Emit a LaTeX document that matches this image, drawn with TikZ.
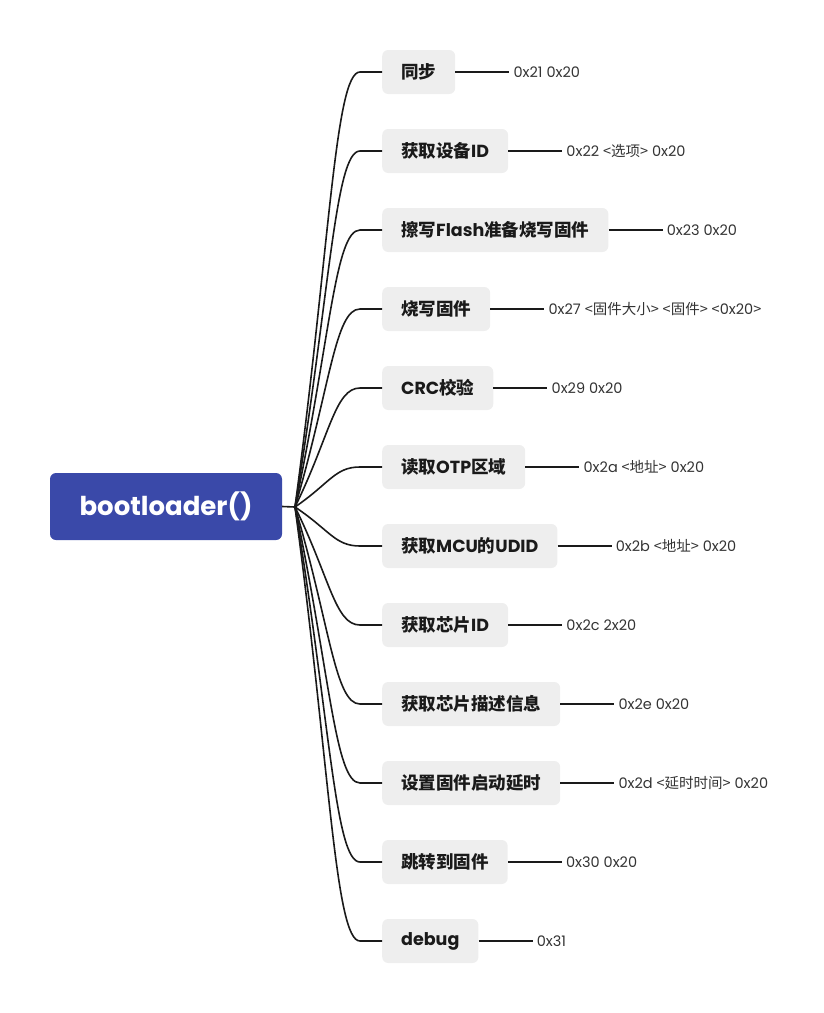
\documentclass[tikz,border=0pt]{standalone}
\usepackage{fontspec}
\setmainfont{Poppins}
\newfontfamily\cjk{Noto Sans CJK SC}
\newcommand\zh[1]{{\cjk #1}}
\definecolor{rootblue}{HTML}{3A49A9}
\definecolor{boxgray}{HTML}{EEEEEE}
\definecolor{codegray}{HTML}{333333}
\definecolor{inkblack}{HTML}{1A1A1A}
\tikzset{
  rootbox/.style={fill=rootblue,rounded corners=6pt,minimum width=232pt,minimum height=67pt,
    text=white,font=\fontsize{26}{30}\selectfont\bfseries},
  cmdbox/.style={fill=boxgray,rounded corners=6pt,minimum height=44pt,inner xsep=19pt,
    anchor=west,text=inkblack,font=\fontsize{17.5}{20}\selectfont\bfseries},
  codetxt/.style={anchor=west,inner xsep=4pt,text=codegray,font=\fontsize{14.5}{17}\selectfont},
  link/.style={draw=inkblack,line width=1.6pt}
}
\begin{document}
\begin{tikzpicture}[x=1pt,y=-1pt]
\useasboundingbox (0,0) rectangle (824,1013);
\node[rootbox] (root) at (166,506.5) {bootloader()};
\coordinate (fork) at (295,507);
\draw[link] (root.east) -- (fork);
\foreach \i/\y/\name/\code in {
  1/72/{\zh{同步}}/{0x21 0x20},
  2/151/{\zh{获取设备}ID}/{0x22 \zh{<选项>} 0x20},
  3/230/{\zh{擦写}Flash\zh{准备烧写固件}}/{0x23 0x20},
  4/309/{\zh{烧写固件}}/{0x27 \zh{<固件大小>} \zh{<固件>} \zh{<}0x20\zh{>}},
  5/388/{CRC\zh{校验}}/{0x29 0x20},
  6/467/{\zh{读取}OTP\zh{区域}}/{0x2a \zh{<地址>} 0x20},
  7/546/{\zh{获取}MCU\zh{的}UDID}/{0x2b \zh{<地址>} 0x20},
  8/625/{\zh{获取芯片}ID}/{0x2c 2x20},
  9/704/{\zh{获取芯片描述信息}}/{0x2e 0x20},
  10/783/{\zh{设置固件启动延时}}/{0x2d \zh{<延时时间>} 0x20},
  11/862/{\zh{跳转到固件}}/{0x30 0x20},
  12/941/{debug}/{0x31}}{
  \node[cmdbox] (c\i) at (382,\y) {\name};
  \node[codetxt] (d\i) at ([xshift=54pt]c\i.east) {\code};
  \draw[link] (fork) .. controls +(35,{0.6*(\y-507)}) and ([xshift=-47pt]c\i.west)
    .. ([xshift=-22pt]c\i.west) -- (c\i.west);
  \draw[link] (c\i.east) -- (d\i.west);
}
\end{tikzpicture}
\end{document}
